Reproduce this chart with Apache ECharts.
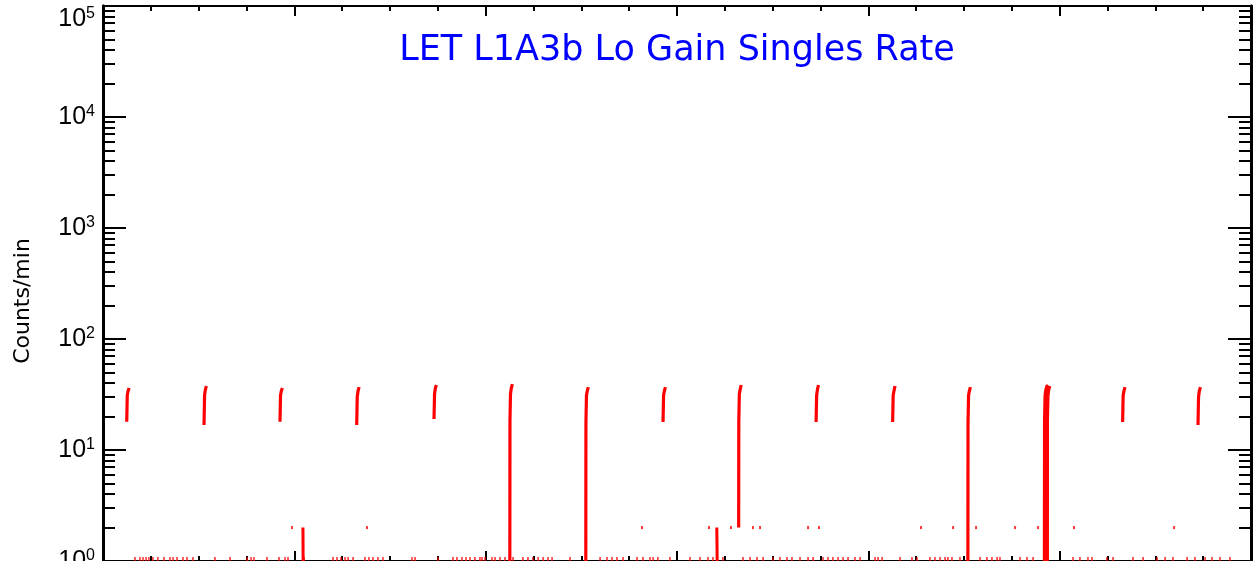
<!DOCTYPE html>
<html><head><meta charset="utf-8">
<script src="https://cdn.jsdelivr.net/npm/echarts@6/dist/echarts.min.js"></script>
<style>html,body{margin:0;padding:0;background:#fff;overflow:hidden}#c{width:1254px;height:561px}</style>
</head><body><div id="c"></div>
<script>
const titleText = 'LET L1A3b Lo Gain Singles Rate';
const yName = 'Counts/min';
const xRange = [0, 6];
const yRange = [1, 100000];
const yDecades = [1, 10, 100, 1000, 10000, 100000];

// pass start times (days) and counts/min readings
const passDays = [0.124, 0.528, 0.925, 1.326, 1.730, 2.127, 2.524, 2.927, 3.323, 3.727, 4.127, 4.521, 4.921, 4.936, 5.329, 5.723];
const passOffsetsMin = [0, 4, 10, 18];
const passReadings = [
  [18.0, 31, 34, 36.2],
  [16.8, 31, 35, 37.7],
  [18.0, 31, 34, 36.2],
  [16.8, 30, 34, 36.9],
  [19.0, 32, 36, 38.5],
  [18.6, 32, 36, 39.3],
  [17.5, 31, 34, 36.9],
  [17.9, 31, 34, 36.9],
  [17.9, 32, 35, 38.5],
  [17.9, 31, 35, 38.5],
  [17.9, 31, 34, 37.7],
  [17.5, 31, 34, 36.9],
  [18.6, 31, 35, 37.7],
  [18.6, 31, 35, 37.7],
  [17.9, 31, 34, 36.9],
  [16.8, 30, 34, 36.9]
];
const passLeadIn = [null, null, null, null, null, 1, 1, null, 2, null, null, 1, 1, 1, null, null];
const passTail   = [null, null, null, null, null, null, null, null, null, null, null, null, 1, null, null, null];

// short drops 2 -> 1
const dropSegments = [
  [[1.045, 2], [1.046, 1]],
  [[3.208, 2], [3.210, 1]]
];

// isolated readings
const onesDays = [0.167,0.193,0.209,0.225,0.240,0.261,0.287,0.319,0.350,0.366,0.387,0.418,0.439,0.470,0.585,0.664,0.753,0.774,0.789,0.857,0.920,0.951,0.967,
  1.051,1.202,1.223,1.244,1.265,1.281,1.307,1.369,1.390,1.411,1.437,1.463,1.615,1.631,1.751,1.829,1.850,1.876,1.897,1.918,1.944,1.970,1.981,1.997,
  2.033,2.049,2.075,2.101,2.143,2.195,2.221,2.247,2.274,2.300,2.326,2.347,2.441,2.598,2.634,2.660,2.686,2.718,2.791,2.822,2.859,2.875,2.900,2.963,
  3.068,3.120,3.162,3.188,3.240,3.345,3.382,3.418,3.450,3.502,3.538,3.575,3.601,3.643,3.685,3.711,3.763,3.789,3.815,3.842,3.868,3.894,3.930,3.957,
  4.035,4.051,4.072,4.166,4.228,4.254,4.322,4.348,4.375,4.401,4.416,4.437,4.479,4.584,4.620,4.646,4.673,4.688,4.793,4.829,4.861,
  5.070,5.106,5.148,5.169,5.247,5.279,5.383,5.436,5.509,5.551,5.592,5.666,5.707,5.760,5.796,5.838,5.890];
const twosDays = [0.988,1.380,2.817,3.167,3.282,3.397,3.434,3.685,3.742,4.275,4.443,4.563,4.767,4.887,5.075,5.598];

const yMinorTicks = [];
yDecades.slice(0, -1).forEach(d => { for (let k = 2; k <= 9; k++) yMinorTicks.push(d * k); });

const RED = '#ff0000';
const series = [];
passDays.forEach((d, i) => {
  const pts = [];
  if (passLeadIn[i] != null) pts.push([d - 0.0007, passLeadIn[i]]);
  passReadings[i].forEach((v, k) => pts.push([d + passOffsetsMin[k] / 1440, v]));
  if (passTail[i] != null) pts.push([d + 19 / 1440, passTail[i]]);
  series.push({type: 'line', data: pts, showSymbol: false, lineStyle: {color: RED, width: 3.2, join: 'round'}, itemStyle: {color: RED}, animation: false, silent: true});
});
dropSegments.forEach(seg => series.push({type: 'line', data: seg, showSymbol: false, lineStyle: {color: RED, width: 3}, animation: false, silent: true}));
series.push({type: 'scatter', data: onesDays.map(d => [d, 1]), symbol: 'rect', symbolSize: [1.6, 8], itemStyle: {color: RED}, animation: false, silent: true});
series.push({type: 'scatter', data: twosDays.map(d => [d, 2]), symbol: 'rect', symbolSize: [2, 3], itemStyle: {color: RED}, animation: false, silent: true});

const blk = '#000';
function xAx(pos) {
  return {type: 'value', position: pos, min: xRange[0], max: xRange[1], interval: 1,
    axisLine: {show: true, onZero: false, lineStyle: {color: blk, width: 2}},
    axisTick: {show: true, inside: true, length: 10, lineStyle: {color: blk, width: 2}},
    minorTick: {show: true, splitNumber: 4, length: 5, lineStyle: {color: blk, width: 2}},
    axisLabel: {show: false}, splitLine: {show: false}, minorSplitLine: {show: false}};
}
function yAx(pos, ticks, len, labels) {
  return {type: 'log', logBase: 10, position: pos, min: yRange[0], max: yRange[1],
    axisLine: {show: true, onZero: false, lineStyle: {color: blk, width: 3}},
    axisTick: {show: true, inside: true, length: len, customValues: ticks, lineStyle: {color: blk, width: 2}},
    axisLabel: labels ? {show: true, margin: 8, verticalAlignMaxLabel: 'top',
      formatter: v => '{b|10}{s|' + Math.round(Math.log10(v)) + '}',
      rich: {b: {fontSize: 25, fontFamily: 'Liberation Sans', color: blk, lineHeight: 27},
             s: {fontSize: 16, fontFamily: 'Liberation Sans', color: blk, verticalAlign: 'top', lineHeight: 14}}} : {show: false},
    splitLine: {show: false}};
}

const chart = echarts.init(document.getElementById('c'), null, {renderer: 'canvas'});
chart.setOption({
  backgroundColor: '#fff',
  animation: false,
  title: {text: titleText, left: 672, top: 28, textAlign: 'center',
    textStyle: {color: '#0000ff', fontFamily: 'DejaVu Sans', fontSize: 35, fontWeight: 'normal'}},
  graphic: [{type: 'text', x: 23, y: 301, rotation: Math.PI / 2,
    style: {text: yName, fontFamily: 'DejaVu Sans', fontSize: 22, fill: blk, align: 'center', verticalAlign: 'middle', textAlign: 'center', textVerticalAlign: 'middle'}}],
  grid: {left: 103, right: 3, top: 6, bottom: 0, containLabel: false, outerBoundsMode: 'none'},
  xAxis: [xAx('bottom'), xAx('top')],
  yAxis: [yAx('left', yDecades, 23, true), yAx('left', yMinorTicks, 12, false), yAx('right', yDecades, 23, false), yAx('right', yMinorTicks, 12, false)],
  series: series
});
</script></body></html>
